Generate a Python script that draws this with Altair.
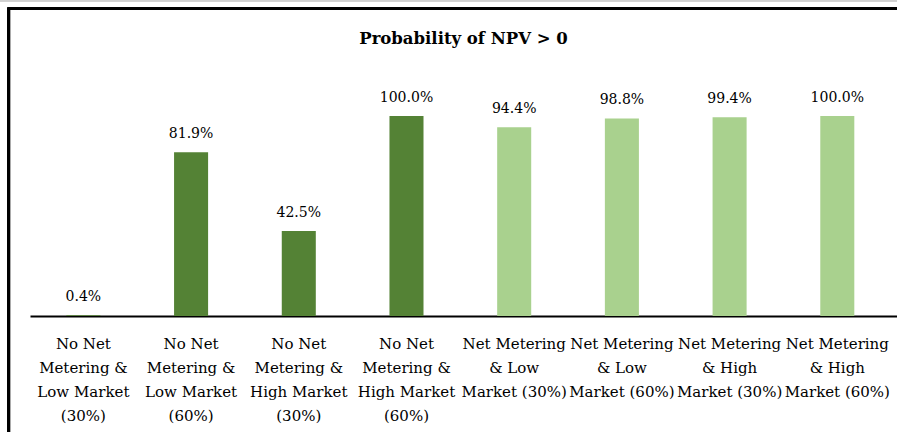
import altair as alt
import pandas as pd

# Scenario names (line breaks as shown under each bar)
categories = [
    "No Net\nMetering &\nLow Market\n(30%)",
    "No Net\nMetering &\nLow Market\n(60%)",
    "No Net\nMetering &\nHigh Market\n(30%)",
    "No Net\nMetering &\nHigh Market\n(60%)",
    "Net Metering\n& Low\nMarket (30%)",
    "Net Metering\n& Low\nMarket (60%)",
    "Net Metering\n& High\nMarket (30%)",
    "Net Metering\n& High\nMarket (60%)",
]
# Probability that NPV > 0 for each scenario
probabilities = [0.004, 0.819, 0.425, 1.000, 0.944, 0.988, 0.994, 1.000]
# Whether net metering applies
net_metering = ["No", "No", "No", "No", "Yes", "Yes", "Yes", "Yes"]

df = pd.DataFrame({
    "scenario": categories,
    "prob": probabilities,
    "net": net_metering,
})

FONT = "DejaVu Serif"
PLOT_W, PLOT_H = 867, 240
PAD_L, PAD_T = 30, 76

x_enc = alt.X(
    "scenario:N",
    sort=None,
    scale=alt.Scale(paddingInner=0.684, paddingOuter=0.367, align=0.46),
    axis=alt.Axis(
        title=None,
        labelExpr="split(datum.label, '\\n')",
        labelFont=FONT,
        labelFontSize=15,
        labelColor="#000000",
        labelAngle=0,
        labelLineHeight=24,
        labelPadding=20,
        labelBaseline="top",
        labelOverlap=False,
        labelLimit=300,
        labelBound=False,
        ticks=False,
        domainColor="#000000",
        domainWidth=2,
        grid=False,
    ),
)
y_enc = alt.Y("prob:Q", scale=alt.Scale(domain=[0, 1.2], nice=False), axis=None)

bars = alt.Chart(df).mark_bar().encode(
    x=x_enc,
    y=y_enc,
    color=alt.Color(
        "net:N",
        scale=alt.Scale(domain=["No", "Yes"], range=["#548235", "#A9D18E"]),
        legend=None,
    ),
)

labels = alt.Chart(df).mark_text(
    font=FONT, fontSize=14, color="#000000", baseline="bottom", dy=-11
).encode(
    x=alt.X("scenario:N", sort=None),
    y="prob:Q",
    text=alt.Text("prob:Q", format=".1%"),
)

# Frame lines along the top and left edges
frame_top = alt.Chart(df).mark_rule(color="#000000", strokeWidth=2.5).encode(
    x=alt.value(8.5 - PAD_L), x2=alt.value(PLOT_W + 5), y=alt.value(8.8 - PAD_T)
)
frame_left = alt.Chart(df).mark_rule(color="#000000", strokeWidth=2.5).encode(
    x=alt.value(8.8 - PAD_L), y=alt.value(7.5 - PAD_T), y2=alt.value(440 - PAD_T)
)
edge_top = alt.Chart(df).mark_rule(color="#d0d0d0", strokeWidth=1.5).encode(
    x=alt.value(-PAD_L), x2=alt.value(PLOT_W + 5), y=alt.value(0.5 - PAD_T)
)

chart = (
    alt.layer(bars, labels, frame_top, frame_left, edge_top)
    .properties(
        width=PLOT_W,
        height=PLOT_H,
        background="#ffffff",
        padding={"left": PAD_L, "top": PAD_T, "right": 0, "bottom": 116},
        autosize=alt.AutoSizeParams(type="none"),
        title=alt.TitleParams(
            "Probability of NPV > 0",
            font=FONT,
            fontSize=16.5,
            fontWeight="bold",
            color="#000000",
            anchor="middle",
            baseline="bottom",
            offset=-64,
        ),
    )
    .configure_view(strokeWidth=0, stroke="transparent")
)

chart.save("out.html", embed_options={"renderer": "svg", "actions": False})
